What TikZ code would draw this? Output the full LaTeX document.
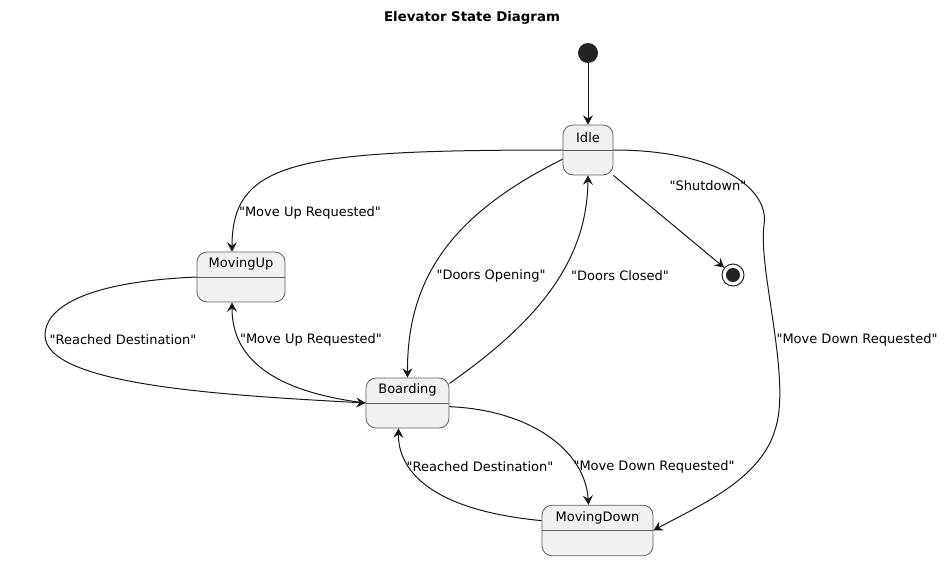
\documentclass[tikz,border=0pt]{standalone}
\usepackage{fontspec}
\setmainfont{DejaVu Sans}[Ligatures=TeXOff]
\usetikzlibrary{arrows.meta}
\definecolor{boxfill}{HTML}{F1F1F1}
\definecolor{boxline}{HTML}{5E5E5E}
\definecolor{edgec}{HTML}{181818}
\definecolor{dotc}{HTML}{222222}
\begin{document}
\begin{tikzpicture}[x=0.75pt,y=-0.75pt,
  statebox/.style={draw=boxline,fill=boxfill,line width=0.6pt,rounded corners=7.5pt,inner sep=0pt,minimum height=37.5pt},
  sepline/.style={draw=boxline,line width=0.6pt},
  stxt/.style={font=\fontsize{9.75pt}{11pt}\selectfont,inner sep=0pt,text=black},
  lbl/.style={font=\fontsize{9.75pt}{11pt}\selectfont,inner sep=0pt,text=black},
  conn/.style={draw=edgec,line width=0.75pt,-{Stealth[length=7pt,width=7.5pt,inset=2.5pt]}}]
\useasboundingbox (0,0) rectangle (944,560);
% title
\node[font=\fontsize{10pt}{12pt}\selectfont\bfseries] (title) at (472,18) {Elevator State Diagram};
% states
\node[circle,fill=dotc,minimum size=15pt,inner sep=0pt] (start) at (588,53) {};
\node[statebox,minimum width=37.5pt] (idle) at (588,150) {};
\node[statebox,minimum width=66pt] (mup) at (241,277) {};
\node[statebox,minimum width=62.25pt] (board) at (407.5,403) {};
\node[statebox,minimum width=83.25pt,minimum height=38pt] (mdown) at (597.5,530.5) {};
\node[circle,draw=dotc,fill=white,line width=0.75pt,minimum size=16.5pt,inner sep=0pt] (end) at (733,275) {};
\node[circle,fill=dotc,minimum size=10.5pt,inner sep=0pt] (endin) at (end.center) {};
% separators and names
\foreach \n in {idle,mup,board,mdown} \draw[sepline] (\n.west) -- (\n.east);
\node[stxt] (idle-t) at ([yshift=9.5pt]idle.center) {Idle};
\node[stxt] (mup-t) at ([yshift=9.5pt]mup.center) {MovingUp};
\node[stxt] (board-t) at ([yshift=9.5pt]board.center) {Boarding};
\node[stxt] (mdown-t) at ([yshift=9.5pt]mdown.center) {MovingDown};
% connectors
\draw[conn] (start) -- (idle.north);
\draw[conn] (idle.west) .. controls (300,150) and (232,160) .. ([xshift=-6.75pt]mup.north);
\draw[conn] (idle.200) .. controls (450,215) and (407,280) .. (board.north);
\draw[conn] (board.25) .. controls (540,320) and (587,260) .. (idle.south);
\draw[conn] (idle.south east) -- (end);
\draw[conn] (idle.east) .. controls (720,150) and (770,190) .. (764,225) .. controls (758,270) and (792,380) .. (775,430) .. controls (760,480) and (700,505) .. (mdown.east);
\draw[conn] (mup.west) .. controls (80,282) and (45,310) .. (45,335) .. controls (45,385) and (220,395) .. (board.west);
\draw[conn] (board.west) .. controls (260,390) and (232,350) .. ([xshift=-6.75pt]mup.south);
\draw[conn] (board.-5) .. controls (530,410) and (585,450) .. ([xshift=-6.75pt]mdown.north);
\draw[conn] (mdown.170) .. controls (430,510) and (398,470) .. ([xshift=-6.75pt]board.south);
% labels
\node[lbl] (l1) at (310,213) {"Move Up Requested"};
\node[lbl] (l2) at (491,276) {"Doors Opening"};
\node[lbl] (l3) at (620,276) {"Doors Closed"};
\node[lbl] (l4) at (708,186) {"Shutdown"};
\node[lbl] (l5) at (857,340) {"Move Down Requested"};
\node[lbl] (l6) at (123,340) {"Reached Destination"};
\node[lbl] (l7) at (311,340) {"Move Up Requested"};
\node[lbl] (l8) at (480,467) {"Reached Destination"};
\node[lbl] (l9) at (654,467) {"Move Down Requested"};
\end{tikzpicture}
\end{document}
